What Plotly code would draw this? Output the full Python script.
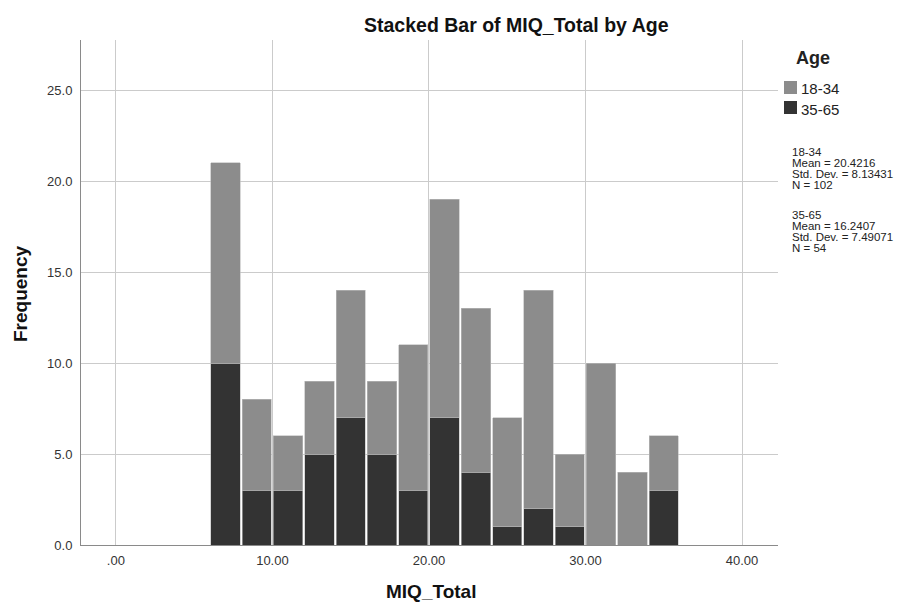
import plotly.graph_objects as go

# MIQ_Total histogram bins (width 2), stacked by age group
bin_centers = [7, 9, 11, 13, 15, 17, 19, 21, 23, 25, 27, 29, 31, 33, 35]
count_18_34 = [11, 5, 3, 4, 7, 4, 8, 12, 9, 6, 12, 4, 10, 4, 3]
count_35_65 = [10, 3, 3, 5, 7, 5, 3, 7, 4, 1, 2, 1, 0, 0, 3]

x_tick_vals = [0, 10, 20, 30, 40]
x_tick_text = [".00", "10.00", "20.00", "30.00", "40.00"]
y_tick_vals = [0, 5, 10, 15, 20, 25]

stats_18_34 = ["18-34", "Mean = 20.4216", "Std. Dev. = 8.13431", "N = 102"]
stats_35_65 = ["35-65", "Mean = 16.2407", "Std. Dev. = 7.49071", "N = 54"]

LIGHT = "#8c8c8c"
DARK = "#333333"
FONT = "Liberation Sans, Arial, sans-serif"
INK = "#111111"

# plot-area geometry in pixels
W, H = 910, 605
L, R, T, B = 81, 132, 40, 60
PW, PH = W - L - R, H - T - B


def px(xp):
    return (xp - L) / PW


def py(yp):
    return (H - B - yp) / PH


def label(text, x, y, size, xanchor="center", angle=0, color=INK):
    return dict(text=text, x=px(x), y=py(y), xref="paper", yref="paper",
                xanchor=xanchor, yanchor="middle", textangle=angle,
                showarrow=False, font=dict(size=size, color=color, family=FONT))


fig = go.Figure()
fig.add_trace(go.Bar(x=bin_centers, y=count_35_65, name="35-65",
                     marker=dict(color=DARK, line=dict(color="#bdbdbd", width=0.6))))
fig.add_trace(go.Bar(x=bin_centers, y=count_18_34, name="18-34",
                     marker=dict(color=LIGHT, line=dict(color="#bdbdbd", width=0.6))))

fig.update_layout(
    width=W, height=H,
    margin=dict(l=L, r=R, t=T, b=B, pad=0),
    paper_bgcolor="white", plot_bgcolor="white",
    barmode="stack", bargap=0.065,
    showlegend=False,
    font=dict(family=FONT, color="#333333"),
)

fig.update_xaxes(
    range=[-2.23, 42.3], tickvals=x_tick_vals, ticktext=x_tick_text,
    showgrid=True, gridcolor="#cbcbcb", gridwidth=1,
    showline=True, linecolor="#8a8a8a", linewidth=1,
    ticks="", ticklabelstandoff=3, zeroline=False,
    tickfont=dict(size=13, color="#333333"),
)
fig.update_yaxes(
    range=[0, 27.75], tickvals=y_tick_vals, tickformat=".1f",
    showgrid=True, gridcolor="#cbcbcb", gridwidth=1,
    showline=True, linecolor="#8a8a8a", linewidth=1,
    ticks="", ticklabelstandoff=5, zeroline=False,
    tickfont=dict(size=13, color="#333333"),
)

ann = [
    label("<b>Stacked Bar of MIQ_Total by Age</b>", 516, 25, 19.5),
    label("<b>MIQ_Total</b>", 431, 591, 19),
    label("<b>Frequency</b>", 20, 293, 19, angle=-90),
    label("<b>Age</b>", 794, 58, 18, xanchor="left", color="#222222"),
]

# legend swatches and entries
shapes = []
for name, color, yc in [("18-34", LIGHT, 88), ("35-65", DARK, 108)]:
    shapes.append(dict(type="rect", xref="paper", yref="paper",
                       x0=px(784), x1=px(797), y0=py(yc - 7), y1=py(yc + 6),
                       fillcolor=color, line=dict(width=0)))
    ann.append(label(name, 799, yc + 1, 15, xanchor="left", color="#222222"))

# group statistics
for lines, y0 in [(stats_18_34, 152), (stats_35_65, 215)]:
    for i, line in enumerate(lines):
        ann.append(label(line, 790, y0 + i * 11, 11.5, xanchor="left", color="#222222"))

fig.update_layout(annotations=ann, shapes=shapes)
fig.write_html("out.html")
